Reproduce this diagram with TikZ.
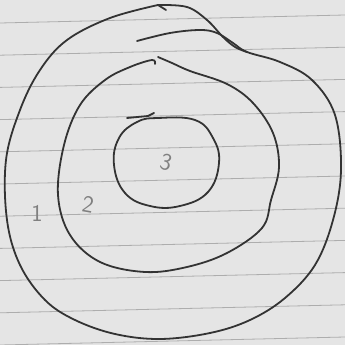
\documentclass[tikz,border=0pt]{standalone}
\begin{document}
\begin{tikzpicture}[x=1pt,y=-1pt,
  pen/.style={line width=1.8pt, draw=black!80, line cap=round, line join=round},
  ruled/.style={line width=0.8pt, draw=black!32},
  numeral/.style={text=black!50, font=\sffamily\fontsize{24}{24}\selectfont}]
\useasboundingbox (0,0) rectangle (345,345);
\fill[black!10] (0,0) rectangle (345,345);
% ruled paper
\foreach \i in {0,...,10}
  \draw[ruled] (0,{23+32.2*\i}) -- (345,{15+32.2*\i});
% ring 1, outer stroke
\draw[pen] plot[smooth, tension=0.6] coordinates {
  (158,5) (110,18) (67,40) (40,70) (20,110) (6,160) (7,220)
  (20,265) (45,300) (75,320) (115,334) (160,339) (210,333) (250,320)
  (285,298) (315,265) (333,220) (341,170) (335,115) (312,80) (280,62)
  (247,52) (233,43) (217,33) (200,30) (170,33) (137,41)};
\draw[pen] plot[smooth, tension=0.6] coordinates {
  (158,5) (187,7) (207,20) (223,37) (235,47) (247,52)};
\draw[pen] (158,5) -- (166,10);
% ring 2
\draw[pen] plot[smooth, tension=0.6] coordinates {
  (155,64) (152,60) (130,67) (105,80) (80,105) (64,145) (58,195)
  (70,235) (100,262) (145,272) (187,267) (227,253) (262,228)
  (271,200) (279,167) (273,133) (253,103) (227,84) (190,71)
  (172,63) (158,57)};
% ring 3
\draw[pen] plot[smooth cycle, tension=0.7] coordinates {
  (158,118) (195,120) (213,138) (219,163) (208,192) (180,206)
  (150,206) (125,193) (114,165) (119,138) (137,122)};
\draw[pen] (127,118) -- (148,116) -- (154,113);
% labels
\node[numeral] (one) at (37,213) {1};
\node[numeral, rotate=-10] (two) at (88,205) {2};
\node[numeral, rotate=-15] (three) at (166,162) {3};
\end{tikzpicture}
\end{document}
